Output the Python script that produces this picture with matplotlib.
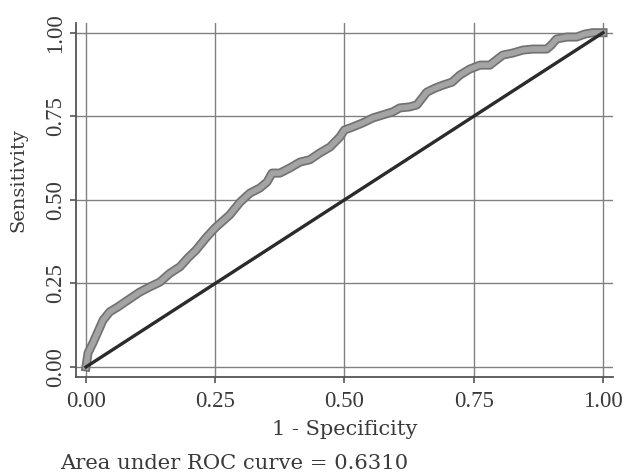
import matplotlib
matplotlib.use("Agg")
import matplotlib.pyplot as plt
import matplotlib.patheffects as pe

fpr = [0, 0.004, 0.0135, 0.023, 0.033, 0.046, 0.062, 0.081, 0.104, 0.124,
       0.143, 0.162, 0.182, 0.197, 0.213, 0.232, 0.249, 0.278, 0.298, 0.317,
       0.336, 0.35, 0.36, 0.375, 0.394, 0.414, 0.433, 0.452, 0.472, 0.491,
       0.50, 0.516, 0.535, 0.555, 0.574, 0.593, 0.607, 0.626, 0.64, 0.65,
       0.659, 0.675, 0.69, 0.708, 0.723, 0.742, 0.762, 0.781, 0.796, 0.806,
       0.825, 0.845, 0.864, 0.891, 0.90, 0.91, 0.93, 0.949, 0.965, 0.98, 1.0]
tpr = [0, 0.042, 0.072, 0.105, 0.14, 0.165, 0.18, 0.20, 0.224, 0.24,
       0.254, 0.28, 0.30, 0.326, 0.35, 0.386, 0.415, 0.455, 0.493, 0.52,
       0.535, 0.553, 0.58, 0.58, 0.595, 0.613, 0.62, 0.64, 0.658, 0.688,
       0.709, 0.718, 0.73, 0.745, 0.754, 0.763, 0.775, 0.778, 0.784, 0.804,
       0.822, 0.834, 0.843, 0.852, 0.873, 0.891, 0.903, 0.903, 0.921, 0.933,
       0.939, 0.948, 0.951, 0.951, 0.963, 0.981, 0.987, 0.987, 0.996, 1.0, 1.0]
ref_line = [0, 1]
ticks = [0, 0.25, 0.5, 0.75, 1.0]
tick_labels = ["0.00", "0.25", "0.50", "0.75", "1.00"]
xlabel = "1 - Specificity"
ylabel = "Sensitivity"
note = "Area under ROC curve = 0.6310"

plt.rcParams['font.family'] = ['DejaVu Serif']
fig = plt.figure(figsize=(6.24, 4.76), dpi=100)
ax = fig.add_axes([76/624, 1-377/476, (613-76)/624, (377-23)/476])
ax.set_xlim(-0.0193, 1.0193)
ax.set_ylim(-0.030, 1.029)

grid_c = '#808080'
for t in ticks:
    ax.axvline(t, color=grid_c, lw=1.0, zorder=1)
    ax.axhline(t, color=grid_c, lw=1.0, zorder=1)

ax.plot(fpr, tpr, color='#a4a4a4', lw=4.0, zorder=3, solid_joinstyle='round',
        path_effects=[pe.Stroke(linewidth=6.5, foreground='#727272'), pe.Normal()])
ax.plot(ref_line, ref_line, color='#2b2b2b', lw=2.4, zorder=4)

for s in ['top', 'right']:
    ax.spines[s].set_visible(False)
for s in ['left', 'bottom']:
    ax.spines[s].set_color('#555555')
    ax.spines[s].set_linewidth(1.3)

tick_font = dict(family=['Liberation Serif', 'DejaVu Serif'], size=16.5)
ax.set_xticks(ticks)
ax.set_xticklabels(tick_labels, fontdict=tick_font)
ax.set_yticks(ticks)
ax.set_yticklabels(tick_labels, rotation=90, va='center', fontdict=tick_font)
ax.tick_params(axis='both', direction='out', length=4, width=1.2, color='#555555',
               labelcolor='#3a3a3a')
ax.tick_params(axis='x', pad=6)
ax.tick_params(axis='y', pad=3)

ax.set_xlabel(xlabel, fontsize=15, color='#3a3a3a', labelpad=6)
ax.set_ylabel(ylabel, fontsize=14, color='#3a3a3a')
ax.yaxis.set_label_coords(-0.090, 0.556)

fig.text(60/624, 1-469/476, note, fontsize=15.2, color='#3a3a3a', ha='left', va='baseline')

fig.savefig('out.png', dpi=100, facecolor='white')
